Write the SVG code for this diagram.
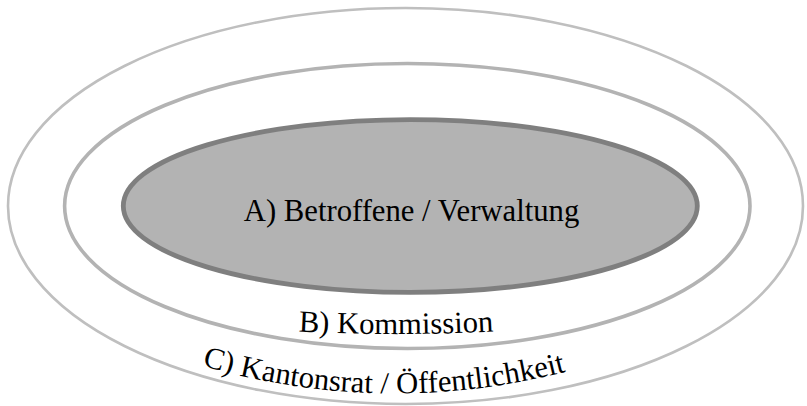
<svg xmlns="http://www.w3.org/2000/svg" xmlns:xlink="http://www.w3.org/1999/xlink" width="807" height="406" viewBox="0 0 807 406">
<style>
.lbl{font-family:"Liberation Serif","Times New Roman",serif;font-size:30.7px;fill:#000;}
.ring{fill:none;}
</style>
<defs>
<path id="arcB" d="M 246 327.8 Q 396 340.2 546 327.8"/>
<path id="arcC" d="M 202 365.6 Q 395 421.4 588 365.6"/>
</defs>
<rect width="807" height="406" fill="#ffffff"/>
<g id="nodeC">
<ellipse class="ring" cx="405.5" cy="206" rx="397.5" ry="198" stroke="#bfbfbf" stroke-width="2.6"/>
<text class="lbl"><textPath xlink:href="#arcC" href="#arcC" startOffset="0">C) Kantonsrat / Öffentlichkeit</textPath></text>
</g>
<g id="nodeB">
<ellipse class="ring" cx="407.3" cy="206" rx="342.7" ry="142.5" stroke="#b3b3b3" stroke-width="3.6"/>
<text class="lbl" text-anchor="middle"><textPath xlink:href="#arcB" href="#arcB" startOffset="50%">B) Kommission</textPath></text>
</g>
<g id="nodeA">
<ellipse cx="410.3" cy="206" rx="287" ry="86.4" fill="#b3b3b3" stroke="#7f7f7f" stroke-width="4.8"/>
<text class="lbl" x="411.5" y="220.5" text-anchor="middle">A) Betroffene / Verwaltung</text>
</g>
<g id="connectors"></g>
</svg>
